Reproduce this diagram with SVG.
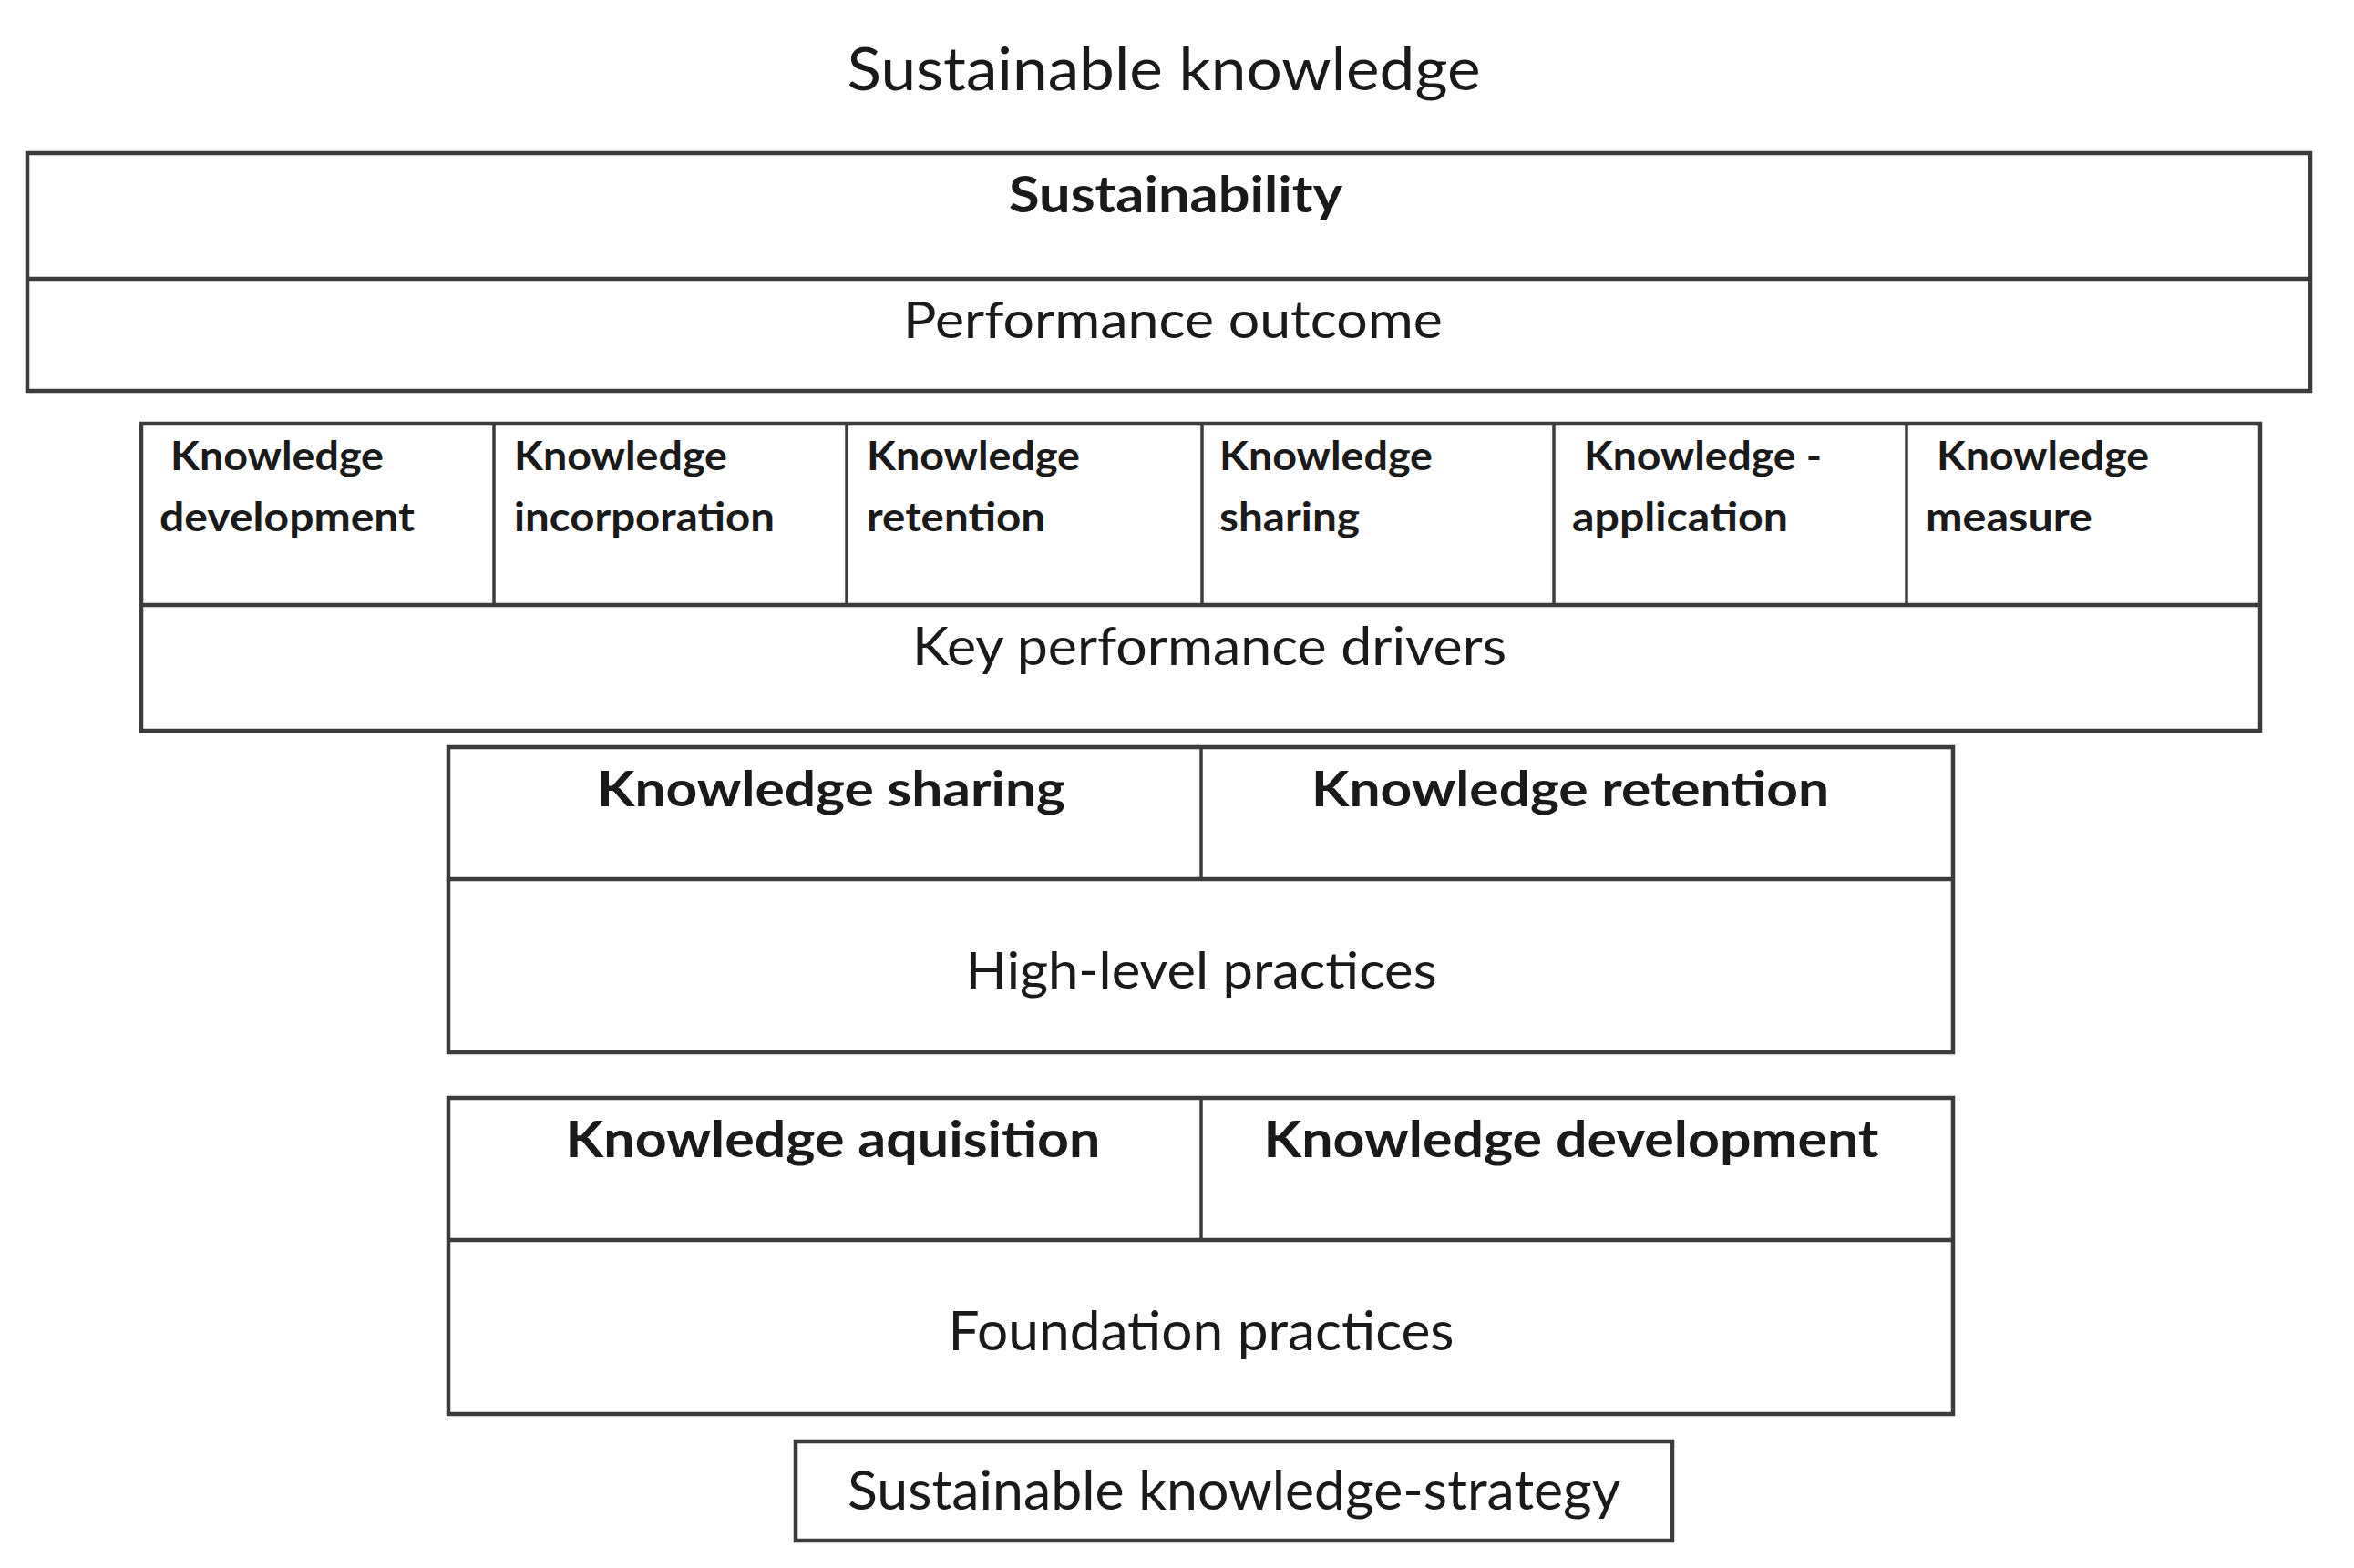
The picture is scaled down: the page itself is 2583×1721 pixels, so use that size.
<svg xmlns="http://www.w3.org/2000/svg" width="2583" height="1721" viewBox="0 0 2583 1721">
<style>
.box{fill:#ffffff;stroke:#3c3c3c;stroke-width:4.5}
.ln{stroke:#3c3c3c;stroke-width:4.5;fill:none}
.ln2{stroke:#3c3c3c;stroke-width:3.5;fill:none}
.t{font-family:Lato,"Open Sans","Liberation Sans",sans-serif;fill:#1a1a1a}
.r{font-weight:400;text-anchor:middle}
.b{font-weight:700;text-anchor:middle}
.c{font-weight:700;font-size:43px}
</style>
<rect width="2583" height="1721" fill="#ffffff"/>
<g id="title">
<text class="t r" x="1277" y="99" font-size="66" textLength="695" lengthAdjust="spacingAndGlyphs">Sustainable knowledge</text>
</g>
<g id="sustainability">
<rect class="box" x="30" y="168" width="2505" height="261"/>
<line class="ln" x1="30" y1="306" x2="2535" y2="306"/>
<text class="t b" x="1290" y="233" font-size="56" textLength="366" lengthAdjust="spacingAndGlyphs">Sustainability</text>
<text class="t r" x="1287" y="371" font-size="57" textLength="592" lengthAdjust="spacingAndGlyphs">Performance outcome</text>
</g>
<g id="key-performance-drivers">
<rect class="box" x="155" y="465" width="2325" height="337"/>
<line class="ln" x1="155" y1="664" x2="2480" y2="664"/>
<line class="ln2" x1="542" y1="465" x2="542" y2="664"/>
<line class="ln2" x1="929" y1="465" x2="929" y2="664"/>
<line class="ln2" x1="1319" y1="465" x2="1319" y2="664"/>
<line class="ln2" x1="1705" y1="465" x2="1705" y2="664"/>
<line class="ln2" x1="2092" y1="465" x2="2092" y2="664"/>
<text class="t c" x="187" y="516" textLength="234" lengthAdjust="spacingAndGlyphs">Knowledge</text>
<text class="t c" x="175" y="583" textLength="280" lengthAdjust="spacingAndGlyphs">development</text>
<text class="t c" x="564" y="516" textLength="234" lengthAdjust="spacingAndGlyphs">Knowledge</text>
<text class="t c" x="564" y="583" textLength="286" lengthAdjust="spacingAndGlyphs">incorporation</text>
<text class="t c" x="951" y="516" textLength="234" lengthAdjust="spacingAndGlyphs">Knowledge</text>
<text class="t c" x="951" y="583" textLength="196" lengthAdjust="spacingAndGlyphs">retention</text>
<text class="t c" x="1338" y="516" textLength="234" lengthAdjust="spacingAndGlyphs">Knowledge</text>
<text class="t c" x="1338" y="583" textLength="154" lengthAdjust="spacingAndGlyphs">sharing</text>
<text class="t c" x="1738" y="516" textLength="261" lengthAdjust="spacingAndGlyphs">Knowledge -</text>
<text class="t c" x="1725" y="583" textLength="237" lengthAdjust="spacingAndGlyphs">application</text>
<text class="t c" x="2125" y="516" textLength="233" lengthAdjust="spacingAndGlyphs">Knowledge</text>
<text class="t c" x="2113" y="583" textLength="183" lengthAdjust="spacingAndGlyphs">measure</text>
<text class="t r" x="1327" y="730" font-size="58" textLength="652" lengthAdjust="spacingAndGlyphs">Key performance drivers</text>
</g>
<g id="high-level-practices">
<rect class="box" x="492" y="820" width="1651" height="335"/>
<line class="ln" x1="492" y1="965" x2="2143" y2="965"/>
<line class="ln2" x1="1318" y1="820" x2="1318" y2="965"/>
<text class="t b" x="912" y="885" font-size="54" textLength="514" lengthAdjust="spacingAndGlyphs">Knowledge sharing</text>
<text class="t b" x="1723" y="885" font-size="54" textLength="568" lengthAdjust="spacingAndGlyphs">Knowledge retention</text>
<text class="t r" x="1318" y="1085" font-size="57" textLength="517" lengthAdjust="spacingAndGlyphs">High-level practices</text>
</g>
<g id="foundation-practices">
<rect class="box" x="492" y="1205" width="1651" height="347"/>
<line class="ln" x1="492" y1="1361" x2="2143" y2="1361"/>
<line class="ln2" x1="1318" y1="1205" x2="1318" y2="1361"/>
<text class="t b" x="914" y="1270" font-size="56" textLength="587" lengthAdjust="spacingAndGlyphs">Knowledge aquisition</text>
<text class="t b" x="1724" y="1270" font-size="56" textLength="675" lengthAdjust="spacingAndGlyphs">Knowledge development</text>
<text class="t r" x="1318" y="1482" font-size="60" textLength="555" lengthAdjust="spacingAndGlyphs">Foundation practices</text>
</g>
<g id="sustainable-knowledge-strategy">
<rect class="box" x="873" y="1582" width="962" height="109"/>
<text class="t r" x="1354" y="1657" font-size="60" textLength="848" lengthAdjust="spacingAndGlyphs">Sustainable knowledge-strategy</text>
</g>
<g id="connectors"></g>
</svg>
